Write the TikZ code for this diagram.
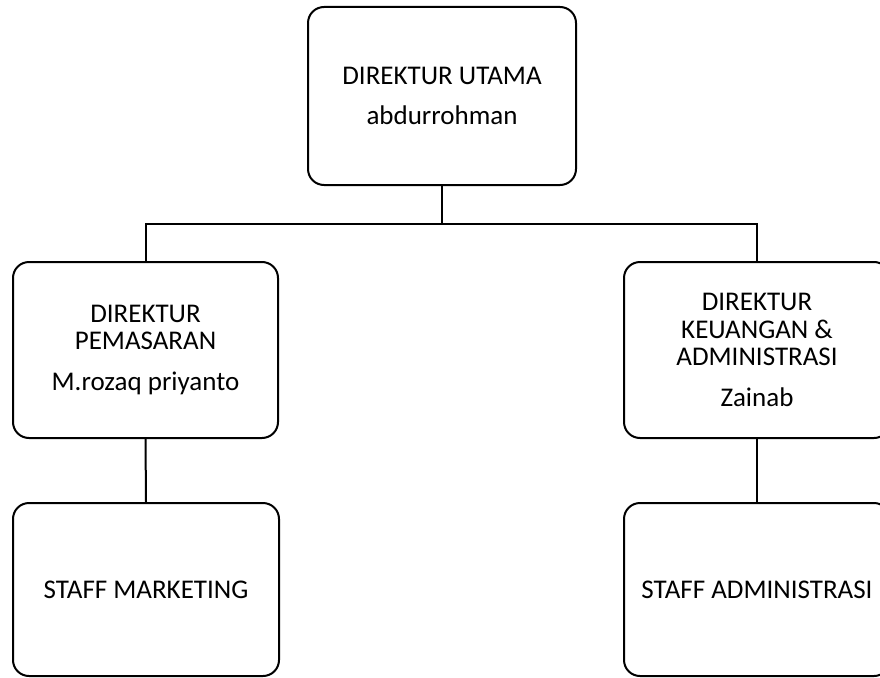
\documentclass[tikz,border=0pt]{standalone}
\usepackage{fontspec}
\setmainfont{Carlito}
\usepackage{tikz}
\usetikzlibrary{calc}

\tikzset{
  jabatan/.style={draw, line width=2pt, rounded corners=16pt, align=center,
    inner sep=0pt, font=\fontsize{27}{27.5}\selectfont},
  garis/.style={line width=2pt}
}

\begin{document}
\begin{tikzpicture}[x=1pt,y=1pt]
    \useasboundingbox (0,0) rectangle (880,-677);
    \clip (0,0) rectangle (880,-677);
    \node[jabatan, minimum width=268pt, minimum height=178pt] (utama) at (442,-96) {DIREKTUR UTAMA\\[12.5pt]abdurrohman};
    \node[jabatan, minimum width=265pt, minimum height=176pt] (pemasaran) at (145.5,-350) {DIREKTUR\\PEMASARAN\\[13.5pt]M.rozaq priyanto};
    \node[jabatan, minimum width=266pt, minimum height=176pt] (keuangan) at (757,-350) {DIREKTUR\\KEUANGAN \&\\ADMINISTRASI\\[13.5pt]Zainab};
    \node[jabatan, minimum width=266pt, minimum height=173pt] (marketing) at (146,-589.5) {STAFF MARKETING};
    \node[jabatan, minimum width=266pt, minimum height=173pt] (administrasi) at (757,-589.5) {STAFF ADMINISTRASI};
    \draw[garis] (utama.south) -- ++(0,-38) coordinate (bar);
    \draw[garis] (pemasaran.north) |- (bar) -| (keuangan.north);
    \draw[garis] (pemasaran.south) -- (marketing.north);
    \draw[garis] (keuangan.south) -- (administrasi.north);
  \end{tikzpicture}
\end{document}
